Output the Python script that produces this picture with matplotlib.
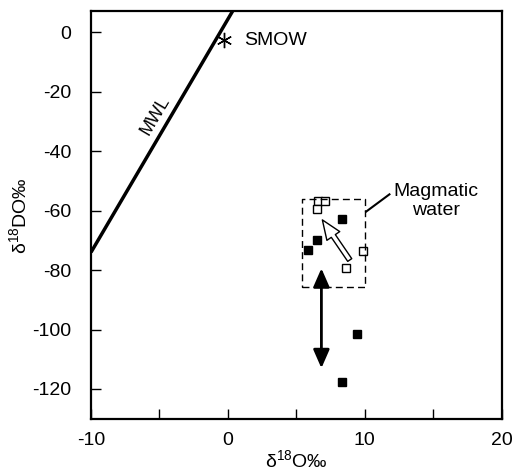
import matplotlib
matplotlib.use("Agg")
import matplotlib.pyplot as plt

plt.rcParams["font.family"] = ["Liberation Sans", "DejaVu Sans"]
plt.rcParams["mathtext.default"] = "regular"

# ----------------------------
# Data
# ----------------------------

filled_x = [8.3, 6.5, 5.85, 9.45, 8.35]
filled_y = [-62.9, -69.9, -73.2, -101.5, -117.7]

open_x = [6.6, 7.1, 6.5, 9.9, 8.6]
open_y = [-56.6, -56.6, -59.5, -73.5, -79.4]

mwl_x = [-10.0, 0.35]
mwl_y = [-74.0, 7.2]

smow_x = [-0.3]
smow_y = [-2.6]

# magmatic water box: x range, y range
box_x = [5.4, 10.0]
box_y = [-85.8, -56.1]

# hollow arrow (start -> end) and the double arrow
shift_start = (8.9, -76.6)
shift_end = (6.9, -63.1)
range_x = 6.83
range_y = [-113.0, -79.4]

# ----------------------------
# Plot
# ----------------------------

fig = plt.figure(figsize=(5.22, 4.74), dpi=100)
ax = fig.add_axes([91 / 522, 1 - 419.3 / 474, 410.7 / 522, 408.3 / 474])

ax.plot(mwl_x, mwl_y, color="black", lw=2.5, solid_capstyle="butt")
ax.text(-5.3, -28, "MWL", rotation=59.5, ha="center", va="center",
        fontsize=13)

ax.plot(smow_x, smow_y, linestyle="none", marker=(6, 2, 0),
        markersize=11, color="black", mew=1.0)
ax.text(1.15, smow_y[0], "SMOW", ha="left", va="center", fontsize=14)

ax.plot(filled_x, filled_y, linestyle="none", marker="s",
        markersize=6, color="black")
ax.plot(open_x, open_y, linestyle="none", marker="s", markersize=6,
        markerfacecolor="white", markeredgecolor="black", mew=1.0)

ax.plot([box_x[0], box_x[1], box_x[1], box_x[0], box_x[0]],
        [box_y[0], box_y[0], box_y[1], box_y[1], box_y[0]],
        color="black", lw=1.0, linestyle=(0, (5, 3)))

ax.plot([10.1, 11.8], [-60.3, -54.5], color="black", lw=1.5)
ax.text(15.2, -56.8, "Magmatic\nwater", ha="center", va="center",
        fontsize=14, linespacing=1.2)

ax.annotate("", xy=shift_end, xytext=shift_start,
            arrowprops=dict(arrowstyle="simple,head_length=1.0,"
                            "head_width=0.8,tail_width=0.25",
                            fc="white", ec="black", lw=1.0,
                            shrinkA=0, shrinkB=0, mutation_scale=14))

ax.annotate("", xy=(range_x, range_y[0]), xytext=(range_x, range_y[1]),
            arrowprops=dict(arrowstyle="<|-|>,head_length=0.8,head_width=0.35",
                            fc="black", ec="black", lw=2.0,
                            shrinkA=0, shrinkB=0, mutation_scale=14))

ax.set_xlim(-10, 20)
ax.set_ylim(-130.2, 7.2)

ax.set_xticks([-10, -5, 0, 5, 10, 15, 20])
ax.set_xticklabels(["-10", "", "0", "", "10", "", "20"])
ax.set_yticks([0, -20, -40, -60, -80, -100, -120])
ax.set_yticklabels(["0", "-20", "-40", "-60", "-80", "-100", "-120"])

ax.tick_params(direction="in", length=7, width=1.0, labelsize=14)
ax.tick_params(axis="x", pad=9)
ax.tick_params(axis="y", pad=14)

for s in ax.spines.values():
    s.set_linewidth(1.6)

ax.set_xlabel("δ$^{18}$O‰", fontsize=14, labelpad=0)
ax.set_ylabel("δ$^{18}$DO‰", fontsize=14, labelpad=2)

fig.savefig("out.png", dpi=100)
